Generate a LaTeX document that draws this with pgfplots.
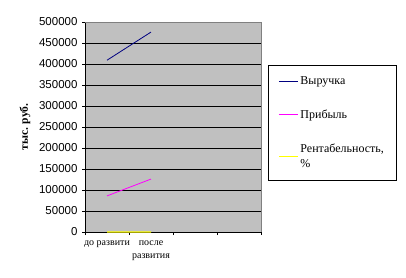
\documentclass[border=0pt]{standalone}
\usepackage{fontspec}
\setmainfont{Liberation Serif}
\newfontfamily\arial{Liberation Sans}
\usepackage{pgfplots}
\pgfplotsset{compat=1.18}
\definecolor{plotgray}{HTML}{C0C0C0}
\definecolor{bordergray}{HTML}{808080}
\definecolor{navy}{HTML}{000080}
\definecolor{magentaX}{HTML}{FF00FF}
\definecolor{yellowX}{HTML}{FFFF00}
\begin{document}
\begin{tikzpicture}[x=1pt,y=1pt]
\useasboundingbox (0,0) rectangle (406,277);
\begin{axis}[
  at={(85pt,45pt)}, anchor=south west,
  scale only axis, width=176pt, height=210pt,
  xmin=0, xmax=4, ymin=0, ymax=500000,
  ytick={0,50000,...,500000},
  scaled y ticks=false,
  /pgf/number format/assume math mode=true,
  yticklabel style={font=\arial\fontsize{11.5}{13}\selectfont, /pgf/number format/fixed, /pgf/number format/1000 sep={}, xshift=-1pt},
  xtick={0,1,2,3,4}, xticklabels={},
  extra x ticks={0.5,1.5},
  extra x tick labels={до развити,{после\\развития}},
  extra x tick style={major tick length=0pt, grid=none,
    tick label style={align=center, font=\fontsize{10}{13}\selectfont, yshift=-5pt}},
  tick align=outside, tick pos=left, major tick length=3pt,
  tick style={black, line width=0.8pt},
  ymajorgrids, major grid style={black, line width=0.8pt},
  axis background/.style={fill=plotgray},
  axis line style={black, line width=0.8pt},
  clip=false,
  ylabel={тыс. руб.},
  y label style={at={(axis description cs:-0.341,0.5)}, anchor=center, font=\bfseries\fontsize{11.5}{13}\selectfont},
  legend style={at={(1.04,0.795)}, anchor=north west, draw=black, fill=white,
    font=\fontsize{12}{15}\selectfont, cells={anchor=west, align=left},
    row sep=20pt, inner xsep=10pt, inner ysep=9pt},
  legend image code/.code={\draw[#1] (0pt,0pt) -- (19pt,0pt);},
]
\draw[bordergray, line width=0.8pt] (rel axis cs:0,1) -- (rel axis cs:1,1) -- (rel axis cs:1,0);
\addplot[navy, line width=0.8pt] coordinates {(0.5,409000) (1.5,476000)};
\addplot[magentaX, line width=0.8pt] coordinates {(0.5,86000) (1.5,126000)};
\addplot[yellowX, line width=1.2pt] coordinates {(0.5,20) (1.5,27)};
\legend{Выручка, Прибыль, {Рентабельность,\\\%}}
\end{axis}
\end{tikzpicture}
\end{document}
